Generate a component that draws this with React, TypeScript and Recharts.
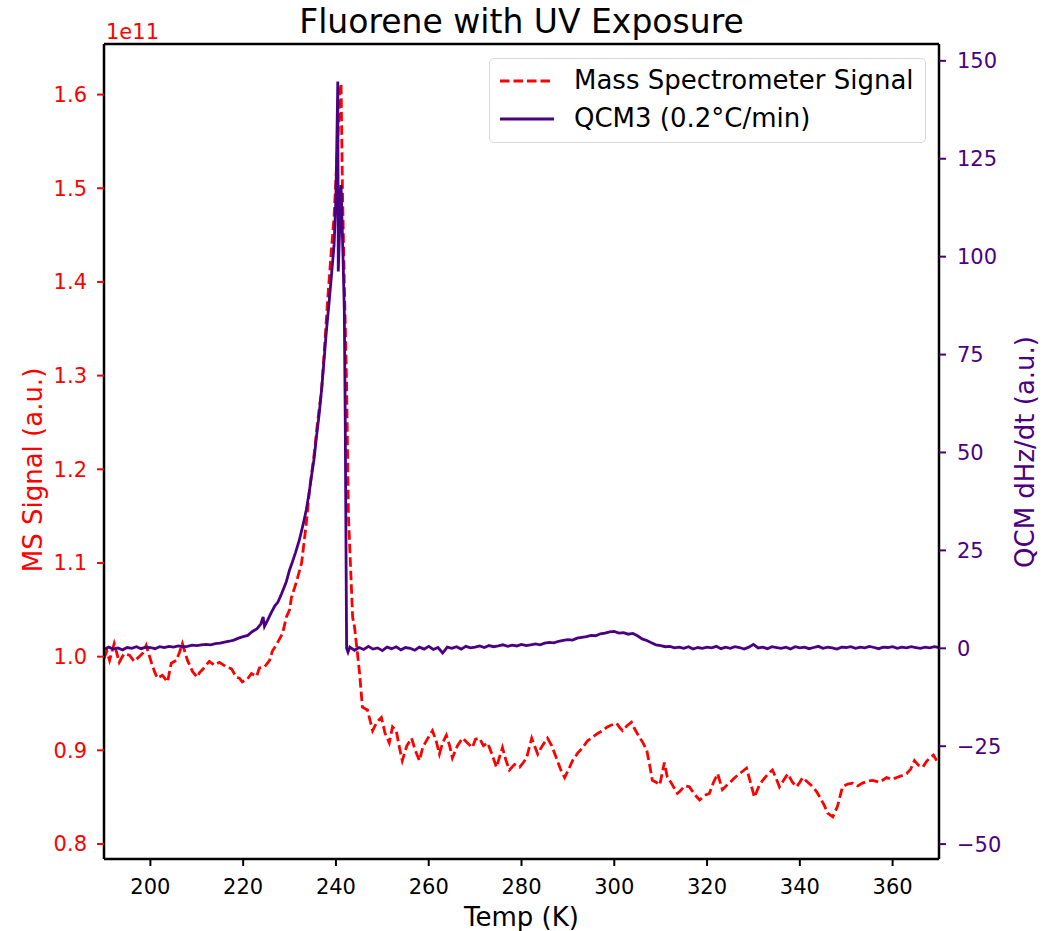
import React from 'react';
import { LineChart, Line, XAxis, YAxis, ReferenceLine } from 'recharts';

const msTemps = [
  190.0, 190.6, 191.2, 192.2, 193.3, 194.3, 195.5, 196.5, 197.6, 198.4, 199.1, 200.2, 200.9, 201.5, 202.6, 203.7,
  204.5, 205.6, 206.3, 206.9, 208.0, 209.1, 210.1, 210.6, 211.2, 212.7, 213.8, 214.9, 216.4, 217.5, 218.5, 219.2,
  219.8, 220.9, 221.8, 222.9, 223.5, 224.6, 225.7, 226.3, 227.2, 228.5, 229.3, 230.0, 230.4, 231.5, 232.6, 233.6,
  234.3, 235.4, 236.0, 236.9, 237.5, 238.2, 239.0, 239.6, 240.3, 240.8, 241.1, 241.4, 241.8, 242.3, 242.7, 243.6,
  244.0, 244.6, 245.1, 245.7, 246.8, 247.9, 248.8, 249.8, 250.6, 251.5, 252.2, 253.0, 253.6, 254.3, 255.3, 256.3,
  257.1, 258.0, 258.7, 259.7, 260.8, 261.6, 262.3, 263.0, 263.8, 264.5, 265.1, 266.2, 267.3, 268.3, 269.4, 270.1,
  270.9, 271.8, 272.7, 273.7, 274.6, 275.9, 276.6, 277.4, 278.5, 279.6, 280.4, 281.1, 282.2, 282.8, 283.5, 284.5,
  285.6, 286.5, 287.5, 288.4, 289.3, 290.2, 291.0, 292.1, 293.2, 294.2, 295.3, 296.4, 297.5, 298.5, 299.4, 300.5,
  301.2, 301.8, 302.7, 303.7, 304.5, 305.4, 306.2, 307.0, 307.6, 308.2, 309.0, 309.8, 310.8, 311.4, 312.3, 313.6,
  314.1, 315.2, 316.2, 317.3, 318.4, 319.5, 320.5, 321.4, 322.3, 323.3, 324.1, 324.8, 326.0, 327.0, 328.5, 329.4,
  330.2, 331.2, 332.0, 333.0, 334.1, 334.9, 335.6, 336.5, 337.4, 338.4, 339.3, 340.0, 340.6, 341.7, 342.8, 343.6,
  344.3, 345.2, 346.0, 347.1, 348.1, 349.2, 350.3, 351.4, 352.5, 353.5, 354.6, 355.7, 357.2, 358.7, 359.8, 360.9,
  362.0, 363.0, 363.9, 364.7, 365.6, 366.5, 367.3, 368.0, 368.8, 369.5,
];
const msValues = [
  0.998, 1.006, 0.996, 1.014, 0.994, 1.003, 1.0015, 0.995, 1.0, 1.004, 1.012, 0.994, 0.984, 0.977, 0.98, 0.973,
  0.993, 0.996, 1.005, 1.014, 0.996, 0.984, 0.978, 0.983, 0.986, 0.995, 0.991, 0.994, 0.989, 0.987, 0.978, 0.977,
  0.973, 0.976, 0.982, 0.979, 0.988, 0.989, 0.996, 1.006, 1.013, 1.025, 1.042, 1.05, 1.063, 1.08, 1.1, 1.142,
  1.178, 1.22, 1.249, 1.284, 1.327, 1.38, 1.433, 1.47, 1.54, 1.6, 1.612, 1.5, 1.4, 1.29, 1.15, 1.042,
  1.032, 1.005, 0.982, 0.946, 0.943, 0.921, 0.93, 0.935, 0.918, 0.908, 0.925, 0.921, 0.905, 0.889, 0.905, 0.913,
  0.9, 0.889, 0.903, 0.912, 0.921, 0.91, 0.896, 0.908, 0.916, 0.905, 0.892, 0.905, 0.913, 0.908, 0.903, 0.912,
  0.913, 0.905, 0.908, 0.895, 0.882, 0.903, 0.89, 0.879, 0.885, 0.882, 0.887, 0.892, 0.913, 0.905, 0.896, 0.905,
  0.913, 0.905, 0.892, 0.88, 0.871, 0.88, 0.889, 0.897, 0.903, 0.91, 0.914, 0.918, 0.921, 0.925, 0.927, 0.929,
  0.924, 0.921, 0.926, 0.93, 0.922, 0.914, 0.908, 0.9, 0.885, 0.868, 0.866, 0.863, 0.887, 0.872, 0.865, 0.854,
  0.856, 0.862, 0.861, 0.853, 0.847, 0.852, 0.854, 0.866, 0.875, 0.858, 0.862, 0.865, 0.871, 0.875, 0.881, 0.865,
  0.85, 0.862, 0.868, 0.874, 0.879, 0.87, 0.861, 0.868, 0.875, 0.866, 0.861, 0.866, 0.871, 0.866, 0.861, 0.856,
  0.85, 0.842, 0.833, 0.829, 0.84, 0.861, 0.864, 0.865, 0.862, 0.865, 0.867, 0.868, 0.866, 0.871, 0.869, 0.871,
  0.873, 0.875, 0.88, 0.889, 0.884, 0.882, 0.888, 0.892, 0.895, 0.889,
];

const qcmTemps = [
  190, 191, 192, 193, 194, 195, 196, 197, 198, 199, 200, 201, 202, 203, 204, 205, 206, 207, 208, 209, 210, 211, 212,
  213, 214, 215, 216, 217, 218, 219, 220, 221, 222, 223, 223.8, 224.3, 224.6, 225.2, 226, 226.8, 227.5, 228.3, 229.3,
  230.0, 230.6, 231.3, 232.1, 232.9, 233.6, 234.2, 234.7, 235.3, 235.8, 236.4, 236.9, 237.4, 237.9, 238.5, 239.0,
  239.6, 240.0, 240.4, 240.5, 241.1, 241.5, 241.8, 242.0, 242.3, 242.6, 243, 244, 245, 246, 247, 248, 249, 250, 251,
  252, 253, 254, 255, 256, 257, 258, 259, 260, 261, 262, 263, 264, 265, 266, 267, 268, 269, 270, 271, 272, 273, 274,
  275, 276, 277, 278, 279, 280, 281, 282, 283, 284, 285, 286, 287, 288, 289, 290, 291, 292, 293, 294, 295, 296, 297,
  298, 299, 300, 301, 302, 303, 304, 305, 306, 307, 308, 309, 310, 311, 312, 313, 314, 315, 316, 317, 318, 319, 320,
  321, 322, 323, 324, 325, 326, 327, 328, 329, 330, 331, 332, 333, 334, 335, 336, 337, 338, 339, 340, 341, 342, 343,
  344, 345, 346, 347, 348, 349, 350, 351, 352, 353, 354, 355, 356, 357, 358, 359, 360, 361, 362, 363, 364, 365, 366,
  367, 368, 369, 370,
];
const qcmValues = [
  -0.3, 0.3, -0.2, 0.1, -0.4, 0.2, 0.0, 0.4, -0.1, 0.3, 0.2, -0.1, 0.4, 0.2, 0.5, 0.3, 0.6, 0.4, 0.5, 0.8, 0.7, 0.9, 1.0,
  0.9, 1.2, 1.3, 1.6, 1.8, 2.1, 2.6, 3.0, 3.3, 4.3, 5.0, 6.2, 8.0, 5.6, 7.0, 9.0, 10.8, 11.8, 14.0, 17.0,
  20.0, 22.0, 24.5, 27.6, 31.5, 35.3, 39.5, 43.7, 48.5, 54.0, 60.0, 66.0, 73.0, 80.5, 88.0, 94.8,
  103.0, 115.0, 144.7, 96.2, 118.3, 101.0, 86.4, 59.0, 0.0, -1.0, 0.3, -0.5, 0.2, -0.3, 0.5, -0.2, 0.1, -0.6, 0.3,
  -0.1, 0.4, -0.4, 0.2, 0.0, -0.5, 0.3, -0.2, 0.5, -0.3, 0.2, -1.2, 0.3, 0.0, 0.4, -0.2, 0.5, 0.1, 0.3, 0.6, 0.2, 0.7, 0.4,
  0.6, 0.9, 0.5, 0.8, 0.6, 1.0, 0.7, 0.9, 1.1, 0.9, 1.3, 1.5, 1.4, 1.8, 2.0, 2.2, 2.1, 2.6, 2.8, 3.0, 3.3, 3.2, 3.7,
  3.9, 4.2, 4.3, 3.9, 4.0, 3.6, 3.8, 3.2, 2.4, 2.0, 1.4, 0.9, 0.7, 0.4, 0.5, 0.1, 0.3, 0.0, 0.4, -0.2, 0.2, 0.0, 0.3,
  0.1, 0.5, -0.1, 0.3, 0.0, 0.4, 0.2, -0.2, 0.3, 1.0, 0.1, 0.3, -0.1, 0.4, 0.2, 0.0, 0.3, -0.2, 0.4, 0.1, 0.3, -0.1, 0.2,
  0.5, 0.0, 0.3, 0.1, -0.2, 0.3, 0.2, 0.4, 0.0, 0.3, 0.1, 0.5, 0.2, -0.1, 0.3, 0.2, 0.4, 0.0, 0.3, 0.1, 0.4, 0.2, 0.0,
  0.3, 0.1, 0.4, 0.2,
];

const xTicks = [200, 220, 240, 260, 280, 300, 320, 340, 360];
const msTicks = [0.8, 0.9, 1.0, 1.1, 1.2, 1.3, 1.4, 1.5, 1.6];
const qcmTicks = [-50, -25, 0, 25, 50, 75, 100, 125, 150];

const xDomain = [190, 370];
const msDomain = [0.784, 1.654];
const qcmDomain = [-53.8, 154.3];

const MS_COLOR = '#ff0000';
const QCM_COLOR = '#4b0082';
const FONT = 'DejaVu Sans, sans-serif';

const msData = msTemps.map((t, i) => ({ t, ms: msValues[i] }));
const qcmData = qcmTemps.map((t, i) => ({ t, qcm: qcmValues[i] }));

const fmtRight = (v: number) => (v < 0 ? '\u2212' + Math.abs(v) : String(v));

const LegendBox = () => (
  <div
    style={{
      position: 'absolute',
      left: 489,
      top: 58,
      width: 437,
      height: 85,
      boxSizing: 'border-box',
      border: '1.5px solid #d8d8d8',
      borderRadius: 5,
      background: 'rgba(255,255,255,0.85)',
      fontFamily: FONT,
      fontSize: 26,
      color: '#000',
    }}
  >
    <svg width={70} height={85} style={{ position: 'absolute', left: 0, top: 0 }}>
      <line x1={10} x2={64} y1={22} y2={22} stroke={MS_COLOR} strokeWidth={2.8} strokeDasharray="9.5 4" />
      <line x1={10} x2={64} y1={60} y2={60} stroke={QCM_COLOR} strokeWidth={2.8} />
    </svg>
    <div style={{ position: 'absolute', left: 84, top: 6, whiteSpace: 'nowrap', lineHeight: 'normal' }}>
      Mass Spectrometer Signal
    </div>
    <div style={{ position: 'absolute', left: 84, top: 44, whiteSpace: 'nowrap', lineHeight: 'normal' }}>
      QCM3 (0.2°C/min)
    </div>
  </div>
);

export default function App() {
  return (
    <div style={{ position: 'absolute', left: 0, top: 0, width: 1049, height: 931, background: '#fff', fontFamily: FONT }}>
      <LineChart
        width={1049}
        height={931}
        margin={{ top: 44, right: 50, bottom: 0, left: 44 }}
        style={{ position: 'absolute', left: 0, top: 0 }}
      >
        <XAxis
          dataKey="t"
          type="number"
          domain={xDomain}
          ticks={xTicks}
          allowDataOverflow
          height={72}
          tickSize={7}
          tickMargin={13}
          axisLine={{ stroke: '#000', strokeWidth: 2.5 }}
          tickLine={{ stroke: '#000', strokeWidth: 2 }}
          tick={{ fill: '#000', fontSize: 21, fontFamily: FONT }}
          label={{ value: 'Temp (K)', position: 'insideBottom', offset: 5, fill: '#000', fontSize: 26, fontFamily: FONT }}
        />
        <YAxis
          yAxisId="left"
          dataKey="ms"
          orientation="left"
          domain={msDomain}
          ticks={msTicks}
          allowDataOverflow
          width={60}
          tickSize={7}
          tickMargin={10}
          tickFormatter={(v: number) => v.toFixed(1)}
          axisLine={{ stroke: '#000', strokeWidth: 2.5 }}
          tickLine={{ stroke: MS_COLOR, strokeWidth: 2 }}
          tick={{ fill: MS_COLOR, fontSize: 21, fontFamily: FONT }}
          label={{
            content: () => (
              <text
                x={33}
                y={470}
                transform="rotate(-90 33 470)"
                textAnchor="middle"
                dominantBaseline="central"
                fill={MS_COLOR}
                fontSize={26}
                fontFamily={FONT}
              >
                MS Signal (a.u.)
              </text>
            ),
          }}
        />
        <YAxis
          yAxisId="right"
          dataKey="qcm"
          orientation="right"
          domain={qcmDomain}
          ticks={qcmTicks}
          allowDataOverflow
          width={60}
          tickSize={7}
          tickMargin={11}
          tickFormatter={fmtRight}
          axisLine={{ stroke: '#000', strokeWidth: 2.5 }}
          tickLine={{ stroke: QCM_COLOR, strokeWidth: 2 }}
          tick={{ fill: QCM_COLOR, fontSize: 21, fontFamily: FONT }}
          label={{
            content: () => (
              <text
                x={1025}
                y={452}
                transform="rotate(-90 1025 452)"
                textAnchor="middle"
                dominantBaseline="central"
                fill={QCM_COLOR}
                fontSize={26}
                fontFamily={FONT}
              >
                QCM dHz/dt (a.u.)
              </text>
            ),
          }}
        />
        <ReferenceLine yAxisId="left" y={msDomain[1]} stroke="#000" strokeWidth={2.5} />
        <Line
          yAxisId="left"
          data={msData}
          dataKey="ms"
          name="Mass Spectrometer Signal"
          stroke={MS_COLOR}
          strokeWidth={2.8}
          strokeDasharray="9.5 4"
          dot={false}
          activeDot={false}
          isAnimationActive={false}
        />
        <Line
          yAxisId="right"
          data={qcmData}
          dataKey="qcm"
          name="QCM3 (0.2°C/min)"
          stroke={QCM_COLOR}
          strokeWidth={2.8}
          dot={false}
          activeDot={false}
          isAnimationActive={false}
        />
      </LineChart>
      <div
        style={{
          position: 'absolute',
          left: 0,
          width: 1043,
          top: 2,
          textAlign: 'center',
          fontSize: 33,
          lineHeight: 'normal',
          color: '#000',
          fontFamily: FONT,
        }}
      >
        Fluorene with UV Exposure
      </div>
      <div style={{ position: 'absolute', left: 106, top: 20, fontSize: 21, lineHeight: 'normal', color: MS_COLOR, fontFamily: FONT }}>
        1e11
      </div>
      <LegendBox />
    </div>
  );
}
